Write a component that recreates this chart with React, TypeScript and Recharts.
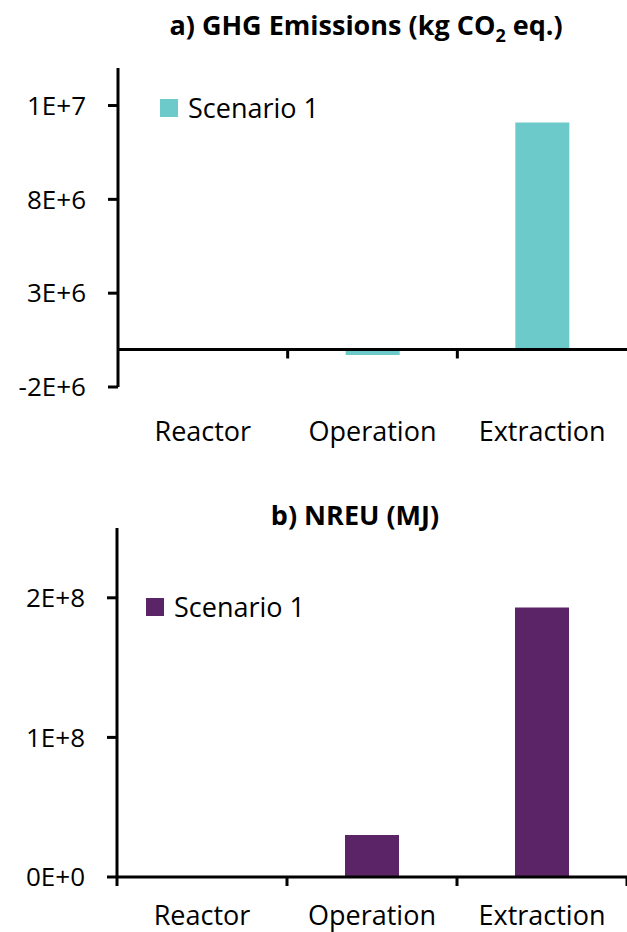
import React from "react";
import {
  BarChart,
  Bar,
  XAxis,
  YAxis,
  Legend,
  ReferenceLine,
} from "recharts";

const categories = ["Reactor", "Operation", "Extraction"];
const ghgValues = [0, -3e5, 1.21e7];
const nreuValues = [0, 3.0e7, 1.93e8];
const ghgTicks = [-2e6, 3e6, 8e6, 1.3e7];
const nreuTicks = [0, 1e8, 2e8];

const ghgData = categories.map((name, i) => ({ name, value: ghgValues[i] }));
const nreuData = categories.map((name, i) => ({ name, value: nreuValues[i] }));

const FONT = "'Open Sans', sans-serif";

const sci = (v: number) => {
  if (v === 0) return "0E+0";
  const e = Math.floor(Math.log10(Math.abs(v)));
  const m = Math.round(v / Math.pow(10, e));
  return `${m}E+${e}`;
};

// zero line with tick marks at the category boundaries
const zeroLine = (edges: boolean) => (props: any) => {
  const { x1, y1, x2 } = props;
  const n = categories.length;
  const step = (x2 - x1) / n;
  const marks = [];
  for (let i = edges ? 0 : 1; i <= (edges ? n : n - 1); i++) {
    const x = x1 + i * step;
    marks.push(<line key={i} x1={x} y1={y1} x2={x} y2={y1 + 9} stroke="#000" strokeWidth={3} />);
  }
  return (
    <g>
      <line x1={x1} y1={y1} x2={x2} y2={y1} stroke="#000" strokeWidth={3} />
      {marks}
    </g>
  );
};

const CatTick = ({ x, y, payload, dy }: any) => (
  <text x={x} y={y} dy={dy} textAnchor="middle" fontFamily={FONT} fontSize={27} fill="#000">
    {payload.value}
  </text>
);

const LegendBox = ({ payload }: any) => (
  <div style={{ display: "flex", alignItems: "center", fontFamily: FONT, fontSize: 27, lineHeight: "30px", color: "#000" }}>
    {(payload || []).map((p: any) => (
      <React.Fragment key={p.value}>
        <span style={{ display: "inline-block", width: 18, height: 18, background: p.color, marginRight: 10 }} />
        <span>{p.value}</span>
      </React.Fragment>
    ))}
  </div>
);

const yTick = { fontFamily: FONT, fontSize: 26, fill: "#000" };

const App: React.FC = () => {
  return (
    <div style={{ position: "absolute", left: 0, top: 0, width: 627, height: 932, background: "#fff" }}>
      <div
        style={{
          position: "absolute",
          top: 7,
          left: 100,
          width: 532,
          textAlign: "center",
          fontFamily: FONT,
          fontWeight: 700,
          fontSize: 27,
          lineHeight: "36px",
        }}
      >
        a) GHG Emissions (kg CO<span style={{ fontSize: 18, position: "relative", top: 7 }}>2</span> eq.)
      </div>
      <div style={{ position: "absolute", top: 0, left: 0 }}>
        <BarChart width={627} height={460} data={ghgData} margin={{ top: 68, right: 0, bottom: 0, left: 0 }}>
          <XAxis
            dataKey="name"
            height={73}
            axisLine={false}
            tickLine={false}
            tick={<CatTick dy={46} />}
          />
          <YAxis
            width={118}
            domain={[-2e6, 1.5e7]}
            ticks={ghgTicks}
            interval={0}
            tickFormatter={sci}
            axisLine={{ stroke: "#000", strokeWidth: 3 }}
            tickLine={{ stroke: "#000", strokeWidth: 3 }}
            tickSize={10}
            tickMargin={22}
            tick={yTick}
          />
          <Legend
            verticalAlign="middle"
            align="center"
            content={<LegendBox />}
            wrapperStyle={{ top: 93, left: 160, width: "auto", height: 30 }}
          />
          <Bar dataKey="value" name="Scenario 1" fill="#6DCACB" barSize={54} isAnimationActive={false} />
          <ReferenceLine y={0} shape={zeroLine(false)} />
        </BarChart>
      </div>
      <div
        style={{
          position: "absolute",
          top: 497,
          left: 117,
          width: 476,
          textAlign: "center",
          fontFamily: FONT,
          fontWeight: 700,
          fontSize: 27,
          lineHeight: "36px",
        }}
      >
        b) NREU (MJ)
      </div>
      <div style={{ position: "absolute", top: 460, left: 0 }}>
        <BarChart width={627} height={472} data={nreuData} margin={{ top: 68, right: 0, bottom: 0, left: 0 }}>
          <XAxis
            dataKey="name"
            height={55}
            axisLine={false}
            tickLine={false}
            tick={<CatTick dy={40} />}
          />
          <YAxis
            width={117}
            domain={[0, 2.5e8]}
            ticks={nreuTicks}
            interval={0}
            tickFormatter={sci}
            axisLine={{ stroke: "#000", strokeWidth: 3 }}
            tickLine={{ stroke: "#000", strokeWidth: 3 }}
            tickSize={10}
            tickMargin={22}
            tick={yTick}
          />
          <Legend
            verticalAlign="middle"
            align="center"
            content={<LegendBox />}
            wrapperStyle={{ top: 132, left: 146, width: "auto", height: 30 }}
          />
          <Bar dataKey="value" name="Scenario 1" fill="#5B2466" barSize={54} isAnimationActive={false} />
          <ReferenceLine y={0} shape={zeroLine(true)} />
        </BarChart>
      </div>
    </div>
  );
};

export default App;
